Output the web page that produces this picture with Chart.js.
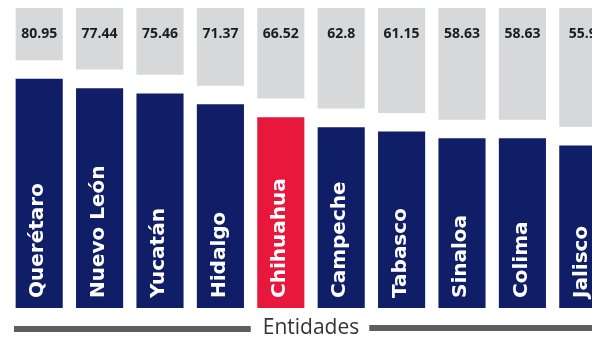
<!DOCTYPE html>
<html>
<head>
<meta charset="utf-8">
<script src="https://cdn.jsdelivr.net/npm/chart.js@4/dist/chart.umd.min.js"></script>
<style>
  html, body { margin: 0; padding: 0; background: #fff; overflow: hidden; }
  #wrap { position: relative; width: 613px; height: 341px; }
</style>
</head>
<body>
<div id="wrap"><canvas id="chart"></canvas></div>
<script>
// entidades y valores
const entidades = ['Querétaro', 'Nuevo León', 'Yucatán', 'Hidalgo', 'Chihuahua', 'Campeche', 'Tabasco', 'Sinaloa', 'Colima', 'Jalisco'];
const valores = [80.95, 77.44, 75.46, 71.37, 66.52, 62.8, 61.15, 58.63, 58.63, 55.9];
const destacado = 'Chihuahua';
const tituloEje = 'Entidades';

const Y_MIN = -5;
const Y_MAX = 107.5;
const HUECO = 7; // separacion entre barra y caja gris (unidades)

const AZUL = '#101e68';
const ROJO = '#e8173c';
const GRIS = '#d7d8da';

const coloresBarras = entidades.map(e => e === destacado ? ROJO : AZUL);
const cajasGrises = valores.map(v => [v + HUECO, Y_MAX]);

// etiquetas dentro de las barras, valores en las cajas y titulo del eje
const etiquetasPlugin = {
    id: 'etiquetas',
    afterDatasetsDraw(chart) {
        const ctx = chart.ctx;
        const area = chart.chartArea;
        const barras = chart.getDatasetMeta(1).data;

        ctx.save();
        barras.forEach((bar, i) => {
            // valor en la caja gris
            ctx.font = 'bold 14px "Open Sans"';
            ctx.fillStyle = '#1c1c1c';
            ctx.textAlign = 'center';
            ctx.textBaseline = 'middle';
            ctx.fillText(String(valores[i]), bar.x, area.top + 26);

            // nombre vertical dentro de la barra
            ctx.save();
            ctx.translate(bar.x - 1, bar.base - 10);
            ctx.rotate(-Math.PI / 2);
            ctx.font = 'bold 20px "DejaVu Sans"';
            ctx.fillStyle = '#ffffff';
            ctx.textAlign = 'left';
            ctx.textBaseline = 'middle';
            ctx.fillText(entidades[i], 0, 0);
            ctx.restore();
        });

        // titulo del eje con lineas a los lados
        const cx = (area.left + area.right) / 2;
        const yTexto = area.bottom + 26;
        ctx.font = '21px "Open Sans"';
        ctx.fillStyle = '#333333';
        ctx.textAlign = 'center';
        ctx.textBaseline = 'alphabetic';
        ctx.fillText(tituloEje, cx, yTexto);
        const ancho = ctx.measureText(tituloEje).width;

        const yLinea = area.bottom + 21;
        ctx.fillStyle = '#5e5e5e';
        ctx.fillRect(area.left + 5, yLinea - 3, (cx - ancho / 2 - 12) - (area.left + 5), 6);
        ctx.fillRect(cx + ancho / 2 + 10, yLinea - 4, area.right - (cx + ancho / 2 + 10), 6);
        ctx.restore();
    }
};

new Chart(document.getElementById('chart'), {
    type: 'bar',
    data: {
        labels: entidades,
        datasets: [
            {
                label: 'resto',
                data: cajasGrises,
                backgroundColor: GRIS,
                borderWidth: 0,
                barPercentage: 0.78,
                categoryPercentage: 1
            },
            {
                label: 'valor',
                data: valores,
                base: Y_MIN,
                backgroundColor: coloresBarras,
                borderWidth: 0,
                barPercentage: 0.78,
                categoryPercentage: 1
            }
        ]
    },
    options: {
        responsive: true,
        maintainAspectRatio: false,
        animation: false,
        layout: {
            padding: { left: 9, right: 0, top: 8, bottom: 33 }
        },
        scales: {
            x: { stacked: true, display: false },
            y: { display: false, min: Y_MIN, max: Y_MAX }
        },
        plugins: {
            legend: { display: false },
            tooltip: { enabled: false }
        }
    },
    plugins: [etiquetasPlugin]
});
</script>
</body>
</html>
